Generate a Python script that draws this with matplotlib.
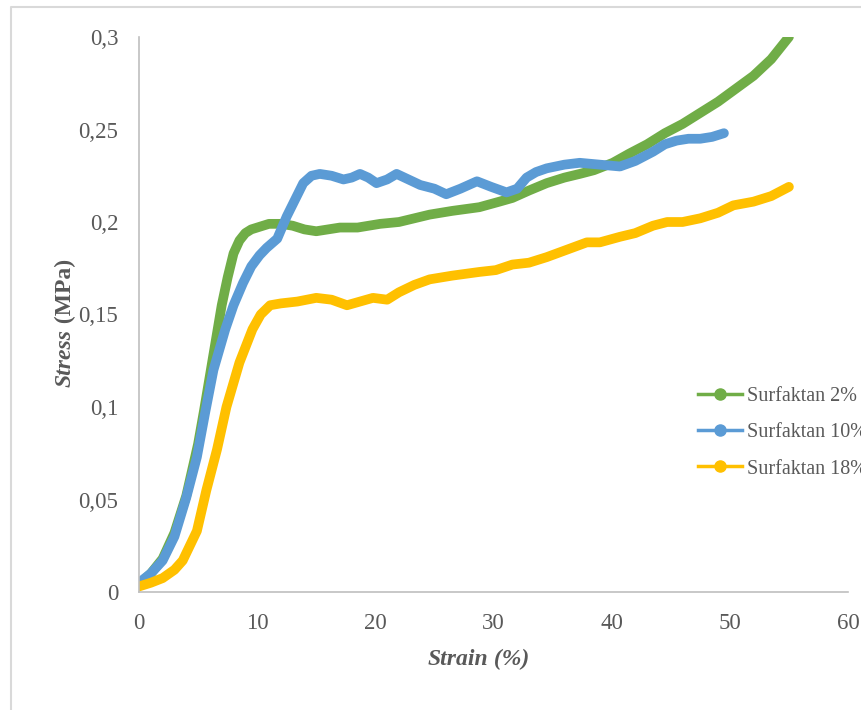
import matplotlib
matplotlib.use('Agg')
import matplotlib.pyplot as plt
from matplotlib.lines import Line2D

plt.rcParams['font.family'] = ['Liberation Serif', 'DejaVu Serif']

# data (strain %, stress MPa)
x2 = [0, 1, 2, 3, 4, 5, 5.5, 6, 6.5, 7, 7.5, 8, 8.5, 9, 9.5, 10, 11, 12, 13, 14, 15, 16,
      17, 18.5, 20.4, 22, 24.6, 26.5, 28.8, 30.5, 31.6, 33, 34.5, 36, 37.3, 38.5, 40.1,
      41.5, 43, 44.5, 46, 47.5, 49, 50.5, 52, 53.5, 55]
y2 = [0.004, 0.010, 0.018, 0.032, 0.052, 0.080, 0.098, 0.117, 0.136, 0.155, 0.170, 0.183,
      0.190, 0.194, 0.196, 0.197, 0.199, 0.199, 0.198, 0.196, 0.195, 0.196,
      0.197, 0.197, 0.199, 0.200, 0.204, 0.206, 0.208, 0.211, 0.213, 0.217, 0.221, 0.224,
      0.226, 0.228, 0.232, 0.237, 0.242, 0.248, 0.253, 0.259, 0.265, 0.272, 0.279, 0.288, 0.300]

x10 = [0, 1, 2, 3, 4, 4.9, 5.6, 6.3, 7.3, 8, 8.8, 9.5, 10.2, 10.8, 11.7, 12.5, 13.2, 13.9,
       14.6, 15.3, 16.3, 17.3, 18.0, 18.7, 19.4, 20.1, 21, 21.8, 22.8, 23.8, 25, 26, 27.2,
       28.6, 29.8, 31.1, 32, 32.8, 33.6, 34.5, 36, 37.3, 39, 40.7, 42, 43.5, 44.5, 45.5,
       46.5, 47.5, 48.5, 49.5]
y10 = [0.005, 0.010, 0.017, 0.030, 0.051, 0.073, 0.097, 0.120, 0.142, 0.155, 0.167, 0.176,
       0.182, 0.186, 0.191, 0.203, 0.212, 0.221, 0.225, 0.226, 0.225, 0.223, 0.224, 0.226,
       0.224, 0.221, 0.223, 0.226, 0.223, 0.220, 0.218, 0.215, 0.218, 0.222, 0.219, 0.216,
       0.218, 0.224, 0.227, 0.229, 0.231, 0.232, 0.231, 0.230, 0.233, 0.238, 0.242, 0.244,
       0.245, 0.245, 0.246, 0.248]

x18 = [0, 1, 2, 3, 3.7, 4.9, 5.7, 6.6, 7.4, 8.5, 9.6, 10.3, 11.1, 12, 13.4, 15, 16.3, 17.6,
       18.7, 19.8, 21, 22, 23.3, 24.6, 26.5, 28.8, 30.2, 31.6, 33, 34.5, 36.2, 37.9, 39,
       40.7, 42, 43.5, 44.7, 46, 47.5, 49, 50.3, 52, 53.5, 55]
y18 = [0.003, 0.005, 0.0075, 0.012, 0.017, 0.033, 0.055, 0.077, 0.100, 0.124, 0.142, 0.150,
       0.155, 0.156, 0.157, 0.159, 0.158, 0.155, 0.157, 0.159, 0.158, 0.162, 0.166, 0.169,
       0.171, 0.173, 0.174, 0.177, 0.178, 0.181, 0.185, 0.189, 0.189, 0.192, 0.194, 0.198,
       0.200, 0.200, 0.202, 0.205, 0.209, 0.211, 0.214, 0.219]

labels = ['Surfaktan 2%', 'Surfaktan 10%', 'Surfaktan 18%']
colors = ['#70AD47', '#5B9BD5', '#FFC000']

xticks = [0, 10, 20, 30, 40, 50, 60]
yticks = [0, 0.05, 0.1, 0.15, 0.2, 0.25, 0.3]
ytick_labels = ['0', '0,05', '0,1', '0,15', '0,2', '0,25', '0,3']

fig = plt.figure(figsize=(8.61, 7.10), dpi=100)
ax = fig.add_axes([139 / 861, 118 / 710, 709 / 861, 555 / 710])

txt = '#595959'
for xs, ys, c in zip([x2, x10, x18], [y2, y10, y18], colors):
    ax.plot(xs, ys, color=c, lw=7, solid_capstyle='round', solid_joinstyle='round')

ax.set_xlim(0, 60)
ax.set_ylim(0, 0.3)
ax.set_xticks(xticks)
ax.set_xticklabels([str(t) for t in xticks])
ax.set_yticks(yticks)
ax.set_yticklabels(ytick_labels)
ax.tick_params(length=0, labelsize=16.5, labelcolor=txt)
ax.tick_params(axis='x', pad=15)
ax.tick_params(axis='y', pad=15)
for s in ['top', 'right']:
    ax.spines[s].set_visible(False)
for s in ['left', 'bottom']:
    ax.spines[s].set_color('#BFBFBF')
    ax.spines[s].set_linewidth(1.2)

# axis titles: italic bold word + upright unit
t1 = ax.text(0.407, -0.122, 'Strain', transform=ax.transAxes, fontsize=17,
             fontweight='bold', fontstyle='italic', color=txt, ha='left', va='center')
ax.annotate(' (%)', xy=(1, 0.5), xycoords=t1, fontsize=17, fontstyle='italic',
            fontweight='bold', color=txt, ha='left', va='center')
t2 = ax.text(-0.104, 0.37, 'Stress', transform=ax.transAxes, fontsize=17, rotation=90,
             fontweight='bold', fontstyle='italic', color=txt, ha='center', va='bottom')
ax.annotate(' (MPa)', xy=(0.5, 1), xycoords=t2, fontsize=17, rotation=90,
            fontweight='bold', color=txt, ha='center', va='bottom')

handles = [Line2D([], [], color=c, lw=2.5, marker='o', markersize=8) for c in colors]
fig.legend(handles, labels, loc='upper left', bbox_to_anchor=(698 / 861, 1 - 387 / 710),
           frameon=False, fontsize=14.5, labelcolor=txt, handlelength=2.2,
           handletextpad=0.25, labelspacing=0.85, borderpad=0, borderaxespad=0)

# outer chart border (partly cropped)
fig.add_artist(Line2D([11 / 861, 11 / 861, 1], [0, 1 - 7 / 710, 1 - 7 / 710],
                      transform=fig.transFigure, color='#D9D9D9', lw=1.5))

fig.savefig('out.png', dpi=100)
